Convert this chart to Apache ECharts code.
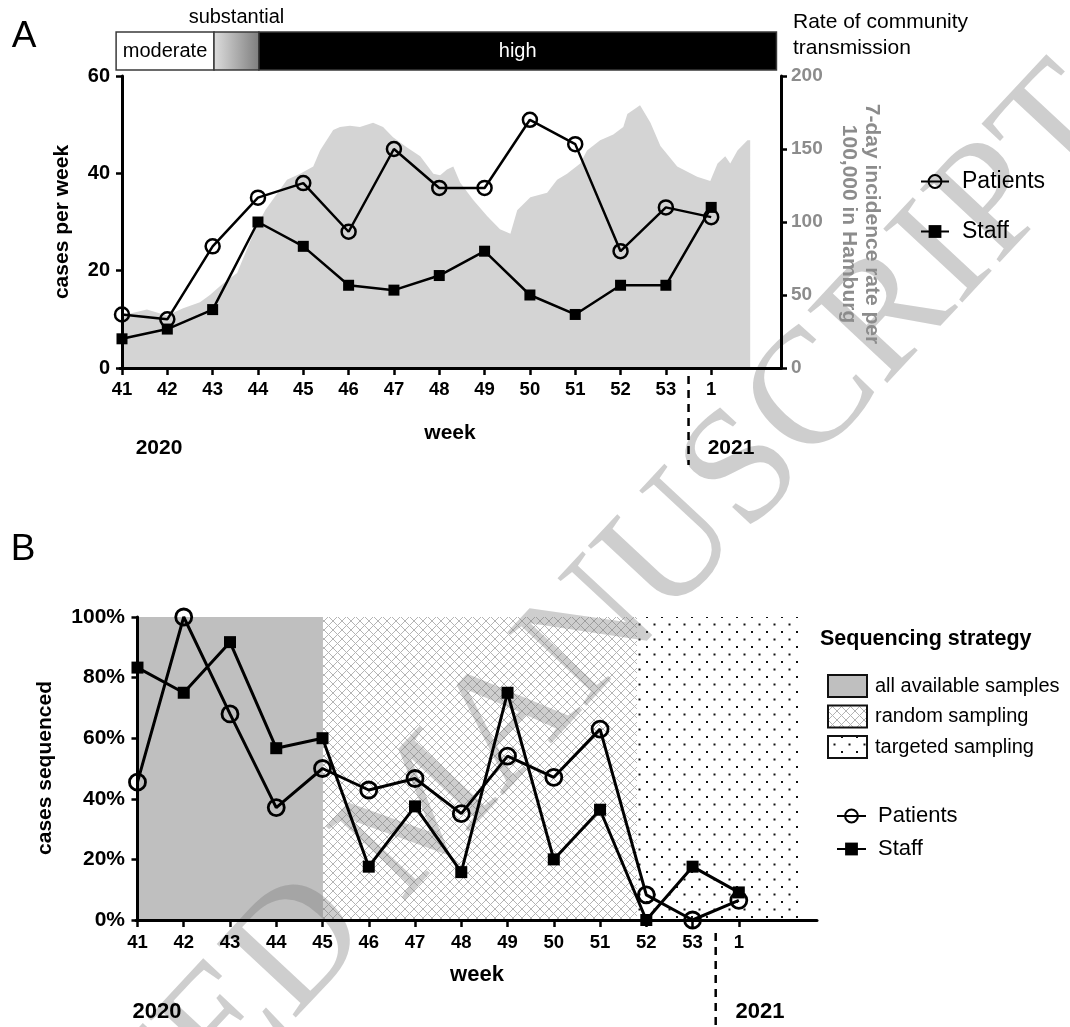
<!DOCTYPE html>
<html>
<head>
<meta charset="utf-8">
<script src="https://cdn.jsdelivr.net/npm/echarts@6/dist/echarts.min.js"></script>
<style>
html,body{margin:0;padding:0;background:#ffffff;}
#chart{width:1070px;height:1027px;}
</style>
</head>
<body>
<div id="chart"></div>
<script>
// ---------------- data ----------------
const weeks = ['41','42','43','44','45','46','47','48','49','50','51','52','53','1'];
const patientCases = [11,10,25,35,38,28,45,37,37,51,46,24,33,31];
const staffCases   = [6,8,12,30,25,17,16,19,24,15,11,17,17,33];

// 7-day incidence rate per 100,000 in Hamburg (position in weeks after week 41)
const incidenceWeekPos = [0,0.55,0.99,1.35,1.72,1.94,2.16,2.32,2.54,2.94,
  3.16,3.64,3.93,4.22,4.37,4.66,4.81,5.03,5.25,5.54,
  5.76,5.98,6.29,6.58,6.87,7.02,7.17,7.31,7.46,7.75,
  8.06,8.34,8.57,8.72,9.01,9.38,9.6,9.82,10.11,10.26,
  10.55,10.84,11.06,11.15,11.43,11.66,11.88,12.25,12.69,12.98,
  13.14,13.31,13.42,13.58,13.8,13.86];
const incidenceRate = [36,40,36,41,45,50,56,60,65,95,
  108,129,133,138,149,163,165,166,165,168,
  165,158,151,145,133,132,136,138,127,115,
  104,95,92,108,117,120,129,133,140,149,
  156,160,165,174,180,168,152,138,131,128,
  140,145,140,149,156,156];

const transmissionLevels = ['moderate','substantial','high'];
const transmissionFrom   = [-0.13, 2.03, 3.02];
const transmissionTo     = [2.03, 3.02, 14.44];

const patientSequencedPct = [45.5,100,68,37.1,50,42.9,46.7,35.1,54.1,47.1,63,8.3,0,6.5];
const staffSequencedPct   = [83.3,75,91.7,56.7,60,17.6,37.5,15.8,75,20,36.4,0,17.6,9.1];

const strategyNames = ['all available samples','random sampling','targeted sampling'];
const strategyFrom  = [-0.03, 4.01, 10.8];
const strategyTo    = [4.01, 10.8, 14.32];

const yearLabels = ['2020','2021'];
const yearBreakPos = 12.5;

// ---------------- styles ----------------
const SANS = '"Liberation Sans", Arial, sans-serif';
const NARROW = '"Liberation Sans Narrow", "Arial Narrow", "Liberation Sans", sans-serif';
const SERIF = '"Liberation Serif", "Times New Roman", serif';
const weekIdx = weeks.map((w, i) => i);

function hatchCanvas() {
  const c = document.createElement('canvas'); c.width = 9; c.height = 9;
  const g = c.getContext('2d');
  g.fillStyle = '#ffffff'; g.fillRect(0,0,9,9);
  g.strokeStyle = '#b4b4b4'; g.lineWidth = 1;
  g.beginPath(); g.moveTo(0,0); g.lineTo(9,9); g.moveTo(9,0); g.lineTo(0,9); g.stroke();
  return c;
}
function dotCanvas() {
  const c = document.createElement('canvas'); c.width = 15; c.height = 15;
  const g = c.getContext('2d');
  g.fillStyle = '#ffffff'; g.fillRect(0,0,15,15);
  g.fillStyle = '#111111';
  g.fillRect(1,1,2,2); g.fillRect(8.5,8.5,2,2);
  return c;
}
const hatchFill = {image: hatchCanvas(), repeat: 'repeat'};
const dotFill = {image: dotCanvas(), repeat: 'repeat'};
const strategyFills = ['#bfbfbf', hatchFill, dotFill];

const chart = echarts.init(document.getElementById('chart'), null, {renderer: 'canvas'});

function xAxisCfg(grid, min, max, labelFont, margin) {
  return {
    gridIndex: grid, type: 'value', min: min, max: max, z: 5,
    axisLine: {show: true, onZero: false, lineStyle: {color: '#000', width: 3}},
    axisTick: {show: true, customValues: weekIdx, length: 7, lineStyle: {color: '#000', width: 2.5}},
    axisLabel: {show: true, customValues: weekIdx, margin: margin,
      formatter: v => weeks[Math.round(v)], fontSize: labelFont, fontWeight: 'bold',
      fontFamily: NARROW, color: '#000'},
    splitLine: {show: false}
  };
}
function yAxisCfg(grid, min, max, interval, opts) {
  return Object.assign({
    gridIndex: grid, type: 'value', min: min, max: max, interval: interval, z: 5,
    axisLine: {show: true, lineStyle: {color: '#000', width: 3}},
    axisTick: {show: true, length: 6, lineStyle: {color: '#000', width: 2.5}},
    splitLine: {show: false}
  }, opts);
}

const option = {
  animation: false,
  backgroundColor: '#ffffff',
  grid: [
    {left: 120, right: 289, top: 76, height: 292},
    {left: 136, right: 253, top: 617, height: 303},
    {left: 120, right: 289, top: 32, height: 38}
  ],
  xAxis: [
    xAxisCfg(0, -0.044, 14.54, 18.5, 12),
    xAxisCfg(1, -0.032, 14.69, 18.5, 13),
    {gridIndex: 2, type: 'value', min: -0.044, max: 14.54, show: false}
  ],
  yAxis: [
    yAxisCfg(0, 0, 60, 20, {axisLabel: {margin: 10, fontSize: 20, fontWeight: 'bold', fontFamily: SANS, color: '#000'}}),
    yAxisCfg(0, 0, 200, 50, {position: 'right',
      axisLabel: {margin: 10, fontSize: 19, fontWeight: 'bold', fontFamily: SANS, color: '#8c8c8c'}}),
    yAxisCfg(1, 0, 100, 20, {axisLabel: {margin: 11, fontSize: 21, fontWeight: 'bold', fontFamily: SANS, color: '#000', formatter: '{value}%'}}),
    {gridIndex: 2, type: 'value', min: 0, max: 1, show: false}
  ],
  legend: [
    {data: ['Patients', 'Staff'], orient: 'vertical', left: 915, top: 165, itemWidth: 28, itemHeight: 16, itemGap: 27,
      selectedMode: false, textStyle: {fontSize: 23, fontFamily: SANS, color: '#000', padding: [0,0,0,8]}},
    {data: ['Patients', 'Staff'], orient: 'vertical', left: 831, top: 800, itemWidth: 29, itemHeight: 16, itemGap: 11,
      selectedMode: false, textStyle: {fontSize: 22, fontFamily: SANS, color: '#000', padding: [0,0,0,7]}}
  ],
  series: [
    // community transmission bar
    {
      type: 'custom', xAxisIndex: 2, yAxisIndex: 3, silent: true, z: 2,
      data: transmissionLevels.map((n, i) => [transmissionFrom[i], transmissionTo[i], i]),
      renderItem: function (params, api) {
        const i = api.value(2);
        const p0 = api.coord([api.value(0), 1]);
        const p1 = api.coord([api.value(1), 0]);
        const w = p1[0] - p0[0], h = p1[1] - p0[1];
        const fills = ['#ffffff',
          new echarts.graphic.LinearGradient(0, 0, 1, 0, [{offset: 0, color: '#dedede'}, {offset: 1, color: '#7d7d7d'}]),
          '#000000'];
        const children = [{type: 'rect', shape: {x: p0[0], y: p0[1], width: w, height: h},
          style: {fill: fills[i], stroke: '#3a3a3a', lineWidth: 1.5}}];
        const ty = i === 1 ? p0[1] - 15 : p0[1] + h / 2;
        children.push({type: 'text', style: {text: transmissionLevels[i], x: p0[0] + w / 2, y: ty,
          align: 'center', verticalAlign: 'middle', textAlign: 'center', textVerticalAlign: 'middle',
          fill: i === 2 ? '#ffffff' : '#000000', fontSize: 20, fontFamily: SANS}});
        return {type: 'group', children: children};
      }
    },
    // incidence area
    {
      type: 'line', name: 'incidence', xAxisIndex: 0, yAxisIndex: 1, silent: true, z: 1,
      data: incidenceWeekPos.map((x, i) => [x, incidenceRate[i]]),
      symbol: 'none', lineStyle: {width: 0, color: '#d4d4d4'},
      areaStyle: {color: '#d4d4d4', opacity: 1}
    },
    {
      type: 'line', name: 'Patients', xAxisIndex: 0, yAxisIndex: 0, z: 4,
      data: patientCases.map((v, i) => [i, v]),
      symbol: 'circle', symbolSize: 14,
      itemStyle: {color: 'rgba(0,0,0,0)', borderColor: '#000', borderWidth: 2.5},
      lineStyle: {color: '#000', width: 2.5}
    },
    {
      type: 'line', name: 'Staff', xAxisIndex: 0, yAxisIndex: 0, z: 4,
      data: staffCases.map((v, i) => [i, v]),
      symbol: 'rect', symbolSize: 11,
      itemStyle: {color: '#000'},
      lineStyle: {color: '#000', width: 2.5}
    },
    // sequencing strategy regions
    {
      type: 'custom', xAxisIndex: 1, yAxisIndex: 2, silent: true, z: 1,
      data: strategyNames.map((n, i) => [strategyFrom[i], strategyTo[i], i]),
      renderItem: function (params, api) {
        const i = api.value(2);
        const p0 = api.coord([api.value(0), 100]);
        const p1 = api.coord([api.value(1), 0]);
        return {type: 'rect', shape: {x: p0[0], y: p0[1], width: p1[0] - p0[0], height: p1[1] - p0[1]},
          style: {fill: strategyFills[i]}};
      }
    },
    {
      type: 'line', name: 'Patients', xAxisIndex: 1, yAxisIndex: 2, z: 4,
      data: patientSequencedPct.map((v, i) => [i, v]),
      symbol: 'circle', symbolSize: 16,
      itemStyle: {color: 'rgba(0,0,0,0)', borderColor: '#000', borderWidth: 2.8},
      lineStyle: {color: '#000', width: 3}
    },
    {
      type: 'line', name: 'Staff', xAxisIndex: 1, yAxisIndex: 2, z: 4,
      data: staffSequencedPct.map((v, i) => [i, v]),
      symbol: 'rect', symbolSize: 12,
      itemStyle: {color: '#000'},
      lineStyle: {color: '#000', width: 3}
    }
  ]
};
chart.setOption(option);

// ---------------- annotations ----------------
const xBreakA = chart.convertToPixel({xAxisIndex: 0}, yearBreakPos);
const xBreakB = chart.convertToPixel({xAxisIndex: 1}, yearBreakPos);
function txt(x, y, text, size, opts) {
  return {type: 'text', x: x, y: y, z: 10, silent: true,
    style: Object.assign({text: text, fontSize: size, fontFamily: SANS, fill: '#000',
      align: 'center', verticalAlign: 'middle', textAlign: 'center', textVerticalAlign: 'middle'}, opts || {})};
}
const graphics = [
  txt(24, 37, 'A', 37),
  txt(23, 550, 'B', 37),
  txt(793, 22, 'Rate of community', 21, {align: 'left', textAlign: 'left'}),
  txt(793, 48, 'transmission', 21, {align: 'left', textAlign: 'left'}),
  Object.assign(txt(62, 222, 'cases per week', 21, {fontWeight: 'bold'}), {rotation: Math.PI / 2}),
  Object.assign(txt(860, 224, '7-day incidence rate per\n100,000 in Hamburg', 21,
    {fontWeight: 'bold', fill: '#8c8c8c', lineHeight: 23}), {rotation: -Math.PI / 2}),
  txt(450, 433, 'week', 21, {fontWeight: 'bold', fontFamily: NARROW}),
  txt(159, 448, yearLabels[0], 21, {fontWeight: 'bold', fontFamily: NARROW}),
  txt(731, 448, yearLabels[1], 21, {fontWeight: 'bold', fontFamily: NARROW}),
  {type: 'line', z: 10, silent: true, shape: {x1: xBreakA, y1: 376, x2: xBreakA, y2: 465},
    style: {stroke: '#000', lineWidth: 2.5, lineDash: [8, 6]}},
  Object.assign(txt(45, 768, 'cases sequenced', 21, {fontWeight: 'bold'}), {rotation: Math.PI / 2}),
  txt(477, 975, 'week', 22, {fontWeight: 'bold', fontFamily: NARROW}),
  txt(157, 1012, yearLabels[0], 22, {fontWeight: 'bold', fontFamily: NARROW}),
  txt(760, 1012, yearLabels[1], 22, {fontWeight: 'bold', fontFamily: NARROW}),
  {type: 'line', z: 10, silent: true, shape: {x1: xBreakB, y1: 933, x2: xBreakB, y2: 1027},
    style: {stroke: '#000', lineWidth: 2.5, lineDash: [8, 6]}},
  txt(820, 639, 'Sequencing strategy', 21.5, {fontWeight: 'bold', align: 'left', textAlign: 'left'})
];
strategyNames.forEach((n, i) => {
  const cy = 686 + i * 30.5;
  graphics.push({type: 'rect', z: 10, silent: true, shape: {x: 828, y: cy - 11, width: 39, height: 22},
    style: {fill: strategyFills[i], stroke: '#111', lineWidth: 2}});
  graphics.push(txt(875, cy, n, 20, {align: 'left', textAlign: 'left'}));
});
// manuscript watermark
graphics.push({type: 'text', x: 428, y: 812, z: 3, silent: true, rotation: 47 * Math.PI / 180,
  style: {text: 'ACCEPTED MANUSCRIPT', fontSize: 165, fontFamily: SERIF, fill: 'rgba(120,120,120,0.36)',
    align: 'center', verticalAlign: 'middle', textAlign: 'center', textVerticalAlign: 'middle'}});

chart.setOption({graphic: {elements: graphics}});
</script>
</body>
</html>
